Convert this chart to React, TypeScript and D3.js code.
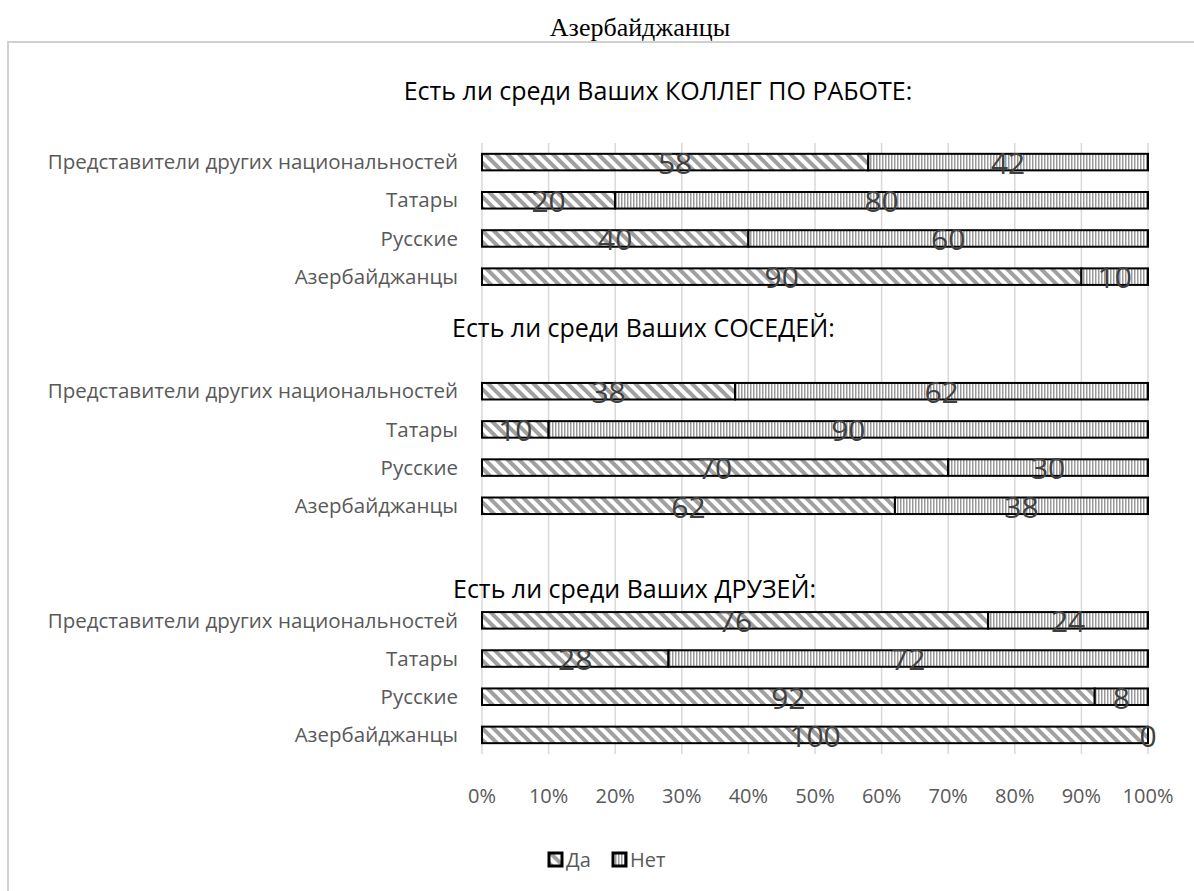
import * as d3 from "d3";

// survey blocks (top to bottom)
const groupTitles = [
  "Есть ли среди Ваших КОЛЛЕГ ПО РАБОТЕ:",
  "Есть ли среди Ваших СОСЕДЕЙ:",
  "Есть ли среди Ваших ДРУЗЕЙ:",
];
const categories = ["Представители других национальностей", "Татары", "Русские", "Азербайджанцы"];

const yesColleagues = [58, 20, 40, 90];
const noColleagues = [42, 80, 60, 10];
const yesNeighbours = [38, 10, 70, 62];
const noNeighbours = [62, 90, 30, 38];
const yesFriends = [76, 28, 92, 100];
const noFriends = [24, 72, 8, 0];

const seriesNames = ["Да", "Нет"];
const xTicks = [0, 0.1, 0.2, 0.3, 0.4, 0.5, 0.6, 0.7, 0.8, 0.9, 1];

const yesByGroup = [yesColleagues, yesNeighbours, yesFriends];
const noByGroup = [noColleagues, noNeighbours, noFriends];

const W = 1194;
const H = 891;
const FONT = "'Open Sans', 'Noto Sans', sans-serif";

// text boxes for the block titles (hand placed in the original)
const titleBoxes = [
  { x: 658, y: 100, anchor: "middle" },
  { x: 452, y: 337, anchor: "start" },
  { x: 453, y: 598, anchor: "start" },
];

type Row = { key: string; cat: string; yes: number; no: number };

export default function App() {
  const rows: Row[] = [];
  const domain: string[] = [];
  groupTitles.forEach((_, gi) => {
    categories.forEach((c, ci) => {
      const key = `g${gi}-${ci}`;
      domain.push(key);
      rows.push({ key, cat: c, yes: yesByGroup[gi][ci], no: noByGroup[gi][ci] });
    });
    // two empty category slots between blocks
    if (gi < groupTitles.length - 1) domain.push(`gap${gi}a`, `gap${gi}b`);
  });

  const x = d3.scaleLinear().domain([0, 1]).range([482, 1148]);
  const y = d3.scaleBand<string>()
    .domain(domain)
    .range([143, 754])
    .paddingInner(0.567)
    .paddingOuter(0.2835);
  const bh = y.bandwidth();
  const pct = d3.format(".0%");

  return (
    <div style={{ position: "absolute", left: 0, top: 0 }}>
      <svg width={W} height={H} style={{ display: "block" }}>
        <defs>
          <pattern id="pYes" width="8" height="8" patternUnits="userSpaceOnUse" patternTransform="rotate(-45)">
            <rect width="8" height="8" fill="#fff" />
            <rect x="0" width="4" height="8" fill="#a0a0a0" />
          </pattern>
          <pattern id="pNo" width="3" height="3" patternUnits="userSpaceOnUse">
            <rect width="3" height="3" fill="#fff" />
            <rect x="0" width="1.5" height="3" fill="#9a9a9a" />
          </pattern>
        </defs>

        <rect width={W} height={H} fill="#fff" />
        <rect x={8} y={42} width={W + 20} height={H} fill="none" stroke="#d0d0d0" strokeWidth={2} />

        <text x={640} y={36} textAnchor="middle" fontFamily="'Liberation Serif', serif" fontSize={26} fill="#000">
          Азербайджанцы
        </text>

        {/* gridlines */}
        {xTicks.map((t) => (
          <line key={t} x1={x(t)} x2={x(t)} y1={143} y2={754} stroke="#d9d9d9" strokeWidth={1.5} />
        ))}

        {/* block titles */}
        {groupTitles.map((t, i) => (
          <text key={t} x={titleBoxes[i].x} y={titleBoxes[i].y} textAnchor={titleBoxes[i].anchor as any}
            fontFamily={FONT} fontSize={25} fill="#000">
            {t}
          </text>
        ))}

        {/* category labels */}
        {rows.map((r) => (
          <text key={r.key + "l"} x={458} y={(y(r.key) ?? 0) + bh / 2} dy="0.35em" textAnchor="end"
            fontFamily={FONT} fontSize={20.5} fill="#595959">
            {r.cat}
          </text>
        ))}

        {/* bars */}
        {rows.map((r) => {
          const y0 = y(r.key) ?? 0;
          const xs = x(r.yes / 100);
          return (
            <g key={r.key}>
              <rect x={x(0)} y={y0} width={xs - x(0)} height={bh} fill="url(#pYes)" stroke="#000" strokeWidth={2} />
              {r.no > 0 && (
                <rect x={xs} y={y0} width={x(1) - xs} height={bh} fill="url(#pNo)" stroke="#000" strokeWidth={2} />
              )}
            </g>
          );
        })}

        {/* data labels */}
        {rows.map((r) => {
          const cy = (y(r.key) ?? 0) + bh / 2 + 1;
          const xs = x(r.yes / 100);
          return (
            <g key={r.key + "d"} fontFamily={FONT} fontSize={30} fill="#404040" textAnchor="middle">
              <text x={(x(0) + xs) / 2} y={cy} dy="0.36em">{r.yes}</text>
              <text x={(xs + x(1)) / 2} y={cy} dy="0.36em">{r.no}</text>
            </g>
          );
        })}

        {/* x axis labels */}
        {xTicks.map((t) => (
          <text key={"t" + t} x={x(t)} y={803} textAnchor="middle" fontFamily={FONT} fontSize={20} fill="#595959">
            {pct(t)}
          </text>
        ))}

        {/* legend */}
        {seriesNames.map((s, i) => {
          const lx = 549 + i * 64;
          return (
            <g key={s}>
              <rect x={lx} y={853} width={13} height={13} fill={i === 0 ? "url(#pYes)" : "url(#pNo)"} stroke="#000" strokeWidth={3} />
              <text x={lx + 17} y={867} fontFamily={FONT} fontSize={20} fill="#595959">{s}</text>
            </g>
          );
        })}
      </svg>
    </div>
  );
}
